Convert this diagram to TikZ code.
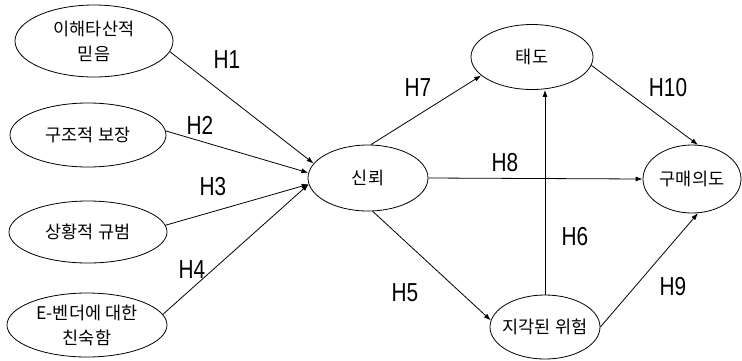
\documentclass[tikz,border=0pt]{standalone}
\usepackage{fontspec}
\setmainfont{Noto Sans CJK KR}
\newfontfamily\hfont[FakeStretch=0.8]{Liberation Sans}
\usetikzlibrary{shapes.geometric,arrows.meta}

\begin{document}
\begin{tikzpicture}[x=1pt,y=-1pt,
    var/.style={draw, ellipse, inner sep=0pt, line width=0.8pt},
    vartext/.style={align=center, inner sep=0pt, font=\fontsize{17.5}{25}\selectfont},
    link/.style={-{Latex[length=7pt,width=5pt]}, line width=0.8pt},
    hyp/.style={inner sep=0pt, font=\hfont\fontsize{26}{26}\selectfont}]
    \useasboundingbox (0,0) rectangle (742,360);

    % antecedents of trust
    \node[var, minimum width=158pt, minimum height=72pt,
          label={[vartext]center:이해타산적\\믿음}] (e1) at (94,41) {};
    \node[var, minimum width=156pt, minimum height=64pt,
          label={[vartext]center:구조적 보장}] (e2) at (88,135) {};
    \node[var, minimum width=158pt, minimum height=62pt,
          label={[vartext]center:상황적 규범}] (e3) at (88,232) {};
    \node[var, minimum width=160pt, minimum height=64pt,
          label={[vartext]center:E-벤더에 대한\\친숙함}] (e4) at (87,325) {};

    % trust, attitude, risk, intention
    \node[var, minimum width=120pt, minimum height=66pt,
          label={[vartext]center:신뢰}] (sin) at (368,178) {};
    \node[var, minimum width=122pt, minimum height=65pt,
          label={[vartext]center:태도}] (tae) at (532,57) {};
    \node[var, minimum width=110pt, minimum height=64pt,
          label={[vartext]center:지각된 위험}] (ji) at (545,327) {};
    \node[var, minimum width=98pt, minimum height=68pt,
          label={[vartext]center:구매의도}] (gu) at (692,179) {};

    \draw[link] (e1.-8) -- (sin.165);
    \draw[link] (e2.3) -- (sin.175);
    \draw[link] (e3.5) -- (sin.186);
    \draw[link] (e4.8) -- (sin.186);
    \draw[link] (sin.-82) -- (ji.173);
    \draw[link] (ji.north) -- (ji.north |- tae.south);
    \draw[link] (sin.85) -- (tae.200);
    \draw[link] (sin.east) -- (gu.west);
    \draw[link] (ji.east) -- (gu.-80);
    \draw[link] (tae.-8) -- (gu.80);

    \node[hyp] (h1) at (227,60) {H1};
    \node[hyp] (h2) at (200,125) {H2};
    \node[hyp] (h3) at (213,187) {H3};
    \node[hyp] (h4) at (192,270) {H4};
    \node[hyp] (h5) at (405,293) {H5};
    \node[hyp] (h6) at (575,237) {H6};
    \node[hyp] (h7) at (418,88) {H7};
    \node[hyp] (h8) at (505,163) {H8};
    \node[hyp] (h9) at (673,287) {H9};
    \node[hyp] (h10) at (668,88) {H10};
\end{tikzpicture}
\end{document}
